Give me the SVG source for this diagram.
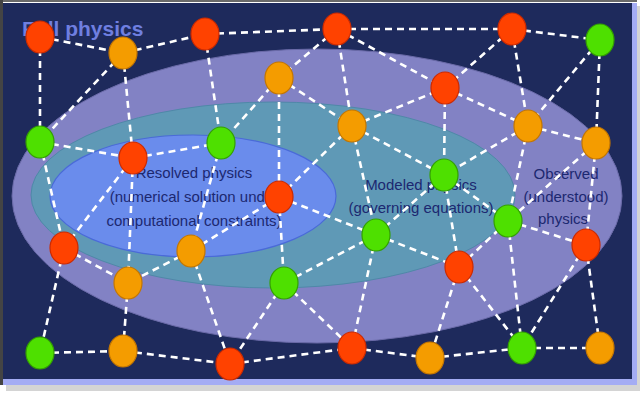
<svg xmlns="http://www.w3.org/2000/svg" width="640" height="393" viewBox="0 0 640 393">
<style>
.e line{stroke:#ffffff;stroke-width:2.6;stroke-dasharray:7 5;fill:none}
.r{fill:#ff4200;stroke:#cc2a00;stroke-width:1.2}
.o{fill:#f49c00;stroke:#c47600;stroke-width:1.2}
.g{fill:#4ee000;stroke:#34a000;stroke-width:1.2}
.lbl{font-family:"Liberation Sans",Arial,sans-serif;font-size:15px;fill:#1c2870;text-anchor:middle}
</style>
<rect x="0" y="0" width="640" height="393" fill="#ffffff"/>
<rect x="6" y="6" width="634" height="385" fill="#d4d4d4"/>
<rect x="3" y="3" width="634" height="382" fill="#a4acf4"/>
<rect x="3" y="3" width="629" height="376" fill="#1e2a5c"/>
<line x1="0" y1="1" x2="637" y2="1" stroke="#6a6a6a" stroke-width="2"/>
<line x1="1.5" y1="0" x2="1.5" y2="385" stroke="#444444" stroke-width="3"/>
<g id="regions">
<ellipse cx="317" cy="196" rx="305" ry="147" fill="#8282c4" stroke="#6a6aa8" stroke-width="1"/>
<ellipse cx="273" cy="195" rx="242" ry="93" fill="#5f99b6" stroke="#4f88a8" stroke-width="1"/>
<ellipse cx="193" cy="196" rx="143" ry="61" fill="#6a8cec" stroke="#4a6ad8" stroke-width="1.2"/>
</g>
<g id="labels">
<text x="22" y="36" font-family="'Liberation Sans',Arial,sans-serif" font-size="21" font-weight="bold" fill="#6f7fe0">Full physics</text>
<text class="lbl" x="194" y="178">Resolved physics</text>
<text class="lbl" x="194" y="202">(numerical solution under</text>
<text class="lbl" x="194" y="226">computational constraints)</text>
<text class="lbl" x="421" y="190">Modeled physics</text>
<text class="lbl" x="421" y="213">(governing equations)</text>
<text class="lbl" x="566" y="179">Observed</text>
<text class="lbl" x="566" y="202">(understood)</text>
<text class="lbl" x="563" y="224">physics</text>
</g>
<g id="connectors" class="e">
<line x1="40" y1="37" x2="123" y2="53"/>
<line x1="40" y1="37" x2="40" y2="142"/>
<line x1="123" y1="53" x2="205" y2="34"/>
<line x1="123" y1="53" x2="40" y2="142"/>
<line x1="123" y1="53" x2="133" y2="158"/>
<line x1="205" y1="34" x2="337" y2="29"/>
<line x1="205" y1="34" x2="221" y2="143"/>
<line x1="337" y1="29" x2="512" y2="29"/>
<line x1="337" y1="29" x2="279" y2="78"/>
<line x1="337" y1="29" x2="352" y2="126"/>
<line x1="337" y1="29" x2="445" y2="88"/>
<line x1="512" y1="29" x2="600" y2="40"/>
<line x1="512" y1="29" x2="445" y2="88"/>
<line x1="512" y1="29" x2="528" y2="126"/>
<line x1="600" y1="40" x2="528" y2="126"/>
<line x1="600" y1="40" x2="596" y2="143"/>
<line x1="279" y1="78" x2="221" y2="143"/>
<line x1="279" y1="78" x2="352" y2="126"/>
<line x1="279" y1="78" x2="279" y2="197"/>
<line x1="352" y1="126" x2="445" y2="88"/>
<line x1="352" y1="126" x2="279" y2="197"/>
<line x1="352" y1="126" x2="444" y2="175"/>
<line x1="352" y1="126" x2="376" y2="235"/>
<line x1="445" y1="88" x2="528" y2="126"/>
<line x1="445" y1="88" x2="444" y2="175"/>
<line x1="528" y1="126" x2="596" y2="143"/>
<line x1="528" y1="126" x2="444" y2="175"/>
<line x1="528" y1="126" x2="508" y2="221"/>
<line x1="596" y1="143" x2="508" y2="221"/>
<line x1="596" y1="143" x2="586" y2="245"/>
<line x1="40" y1="142" x2="133" y2="158"/>
<line x1="40" y1="142" x2="64" y2="248"/>
<line x1="133" y1="158" x2="221" y2="143"/>
<line x1="133" y1="158" x2="64" y2="248"/>
<line x1="133" y1="158" x2="128" y2="283"/>
<line x1="221" y1="143" x2="191" y2="251"/>
<line x1="279" y1="197" x2="376" y2="235"/>
<line x1="279" y1="197" x2="191" y2="251"/>
<line x1="279" y1="197" x2="284" y2="283"/>
<line x1="444" y1="175" x2="376" y2="235"/>
<line x1="444" y1="175" x2="508" y2="221"/>
<line x1="444" y1="175" x2="459" y2="267"/>
<line x1="508" y1="221" x2="586" y2="245"/>
<line x1="508" y1="221" x2="459" y2="267"/>
<line x1="508" y1="221" x2="522" y2="348"/>
<line x1="64" y1="248" x2="128" y2="283"/>
<line x1="64" y1="248" x2="40" y2="353"/>
<line x1="191" y1="251" x2="128" y2="283"/>
<line x1="191" y1="251" x2="230" y2="364"/>
<line x1="128" y1="283" x2="123" y2="351"/>
<line x1="376" y1="235" x2="284" y2="283"/>
<line x1="376" y1="235" x2="459" y2="267"/>
<line x1="376" y1="235" x2="352" y2="348"/>
<line x1="586" y1="245" x2="522" y2="348"/>
<line x1="586" y1="245" x2="600" y2="348"/>
<line x1="459" y1="267" x2="522" y2="348"/>
<line x1="459" y1="267" x2="430" y2="358"/>
<line x1="284" y1="283" x2="230" y2="364"/>
<line x1="284" y1="283" x2="352" y2="348"/>
<line x1="40" y1="353" x2="123" y2="351"/>
<line x1="123" y1="351" x2="230" y2="364"/>
<line x1="230" y1="364" x2="352" y2="348"/>
<line x1="352" y1="348" x2="430" y2="358"/>
<line x1="430" y1="358" x2="522" y2="348"/>
<line x1="522" y1="348" x2="600" y2="348"/>
</g>
<g id="nodes">
<g id="R1"><ellipse class="r" cx="40" cy="37" rx="14" ry="16"/></g>
<g id="R2"><ellipse class="r" cx="205" cy="34" rx="14" ry="16"/></g>
<g id="R3"><ellipse class="r" cx="337" cy="29" rx="14" ry="16"/></g>
<g id="R4"><ellipse class="r" cx="512" cy="29" rx="14" ry="16"/></g>
<g id="R5"><ellipse class="r" cx="445" cy="88" rx="14" ry="16"/></g>
<g id="R6"><ellipse class="r" cx="133" cy="158" rx="14" ry="16"/></g>
<g id="R7"><ellipse class="r" cx="279" cy="197" rx="14" ry="16"/></g>
<g id="R8"><ellipse class="r" cx="64" cy="248" rx="14" ry="16"/></g>
<g id="R9"><ellipse class="r" cx="586" cy="245" rx="14" ry="16"/></g>
<g id="R10"><ellipse class="r" cx="459" cy="267" rx="14" ry="16"/></g>
<g id="R11"><ellipse class="r" cx="230" cy="364" rx="14" ry="16"/></g>
<g id="R12"><ellipse class="r" cx="352" cy="348" rx="14" ry="16"/></g>
<g id="O1"><ellipse class="o" cx="123" cy="53" rx="14" ry="16"/></g>
<g id="O2"><ellipse class="o" cx="279" cy="78" rx="14" ry="16"/></g>
<g id="O3"><ellipse class="o" cx="352" cy="126" rx="14" ry="16"/></g>
<g id="O4"><ellipse class="o" cx="528" cy="126" rx="14" ry="16"/></g>
<g id="O5"><ellipse class="o" cx="596" cy="143" rx="14" ry="16"/></g>
<g id="O6"><ellipse class="o" cx="191" cy="251" rx="14" ry="16"/></g>
<g id="O7"><ellipse class="o" cx="128" cy="283" rx="14" ry="16"/></g>
<g id="O8"><ellipse class="o" cx="123" cy="351" rx="14" ry="16"/></g>
<g id="O9"><ellipse class="o" cx="430" cy="358" rx="14" ry="16"/></g>
<g id="O10"><ellipse class="o" cx="600" cy="348" rx="14" ry="16"/></g>
<g id="G1"><ellipse class="g" cx="600" cy="40" rx="14" ry="16"/></g>
<g id="G2"><ellipse class="g" cx="40" cy="142" rx="14" ry="16"/></g>
<g id="G3"><ellipse class="g" cx="221" cy="143" rx="14" ry="16"/></g>
<g id="G4"><ellipse class="g" cx="444" cy="175" rx="14" ry="16"/></g>
<g id="G5"><ellipse class="g" cx="508" cy="221" rx="14" ry="16"/></g>
<g id="G6"><ellipse class="g" cx="376" cy="235" rx="14" ry="16"/></g>
<g id="G7"><ellipse class="g" cx="284" cy="283" rx="14" ry="16"/></g>
<g id="G8"><ellipse class="g" cx="40" cy="353" rx="14" ry="16"/></g>
<g id="G9"><ellipse class="g" cx="522" cy="348" rx="14" ry="16"/></g>
</g>
</svg>
